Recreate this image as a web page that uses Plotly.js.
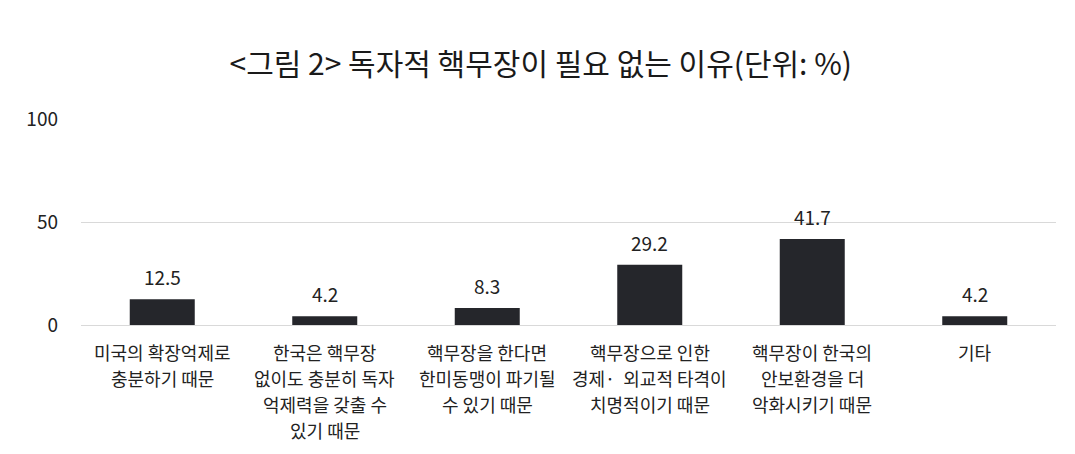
<!DOCTYPE html>
<html>
<head>
<meta charset="utf-8">
<script src="https://cdn.plot.ly/plotly-3.0.1.min.js"></script>
<style>
  html, body { margin: 0; padding: 0; background: #fff; }
  #chart { width: 1075px; height: 454px; }
</style>
</head>
<body>
<div id="chart"></div>
<script>
const categories = ["c1", "c2", "c3", "c4", "c5", "c6"];
const catLabels = [
  ["미국의 확장억제로", "충분하기 때문"],
  ["한국은 핵무장", "없이도 충분히 독자", "억제력을 갖출 수", "있기 때문"],
  ["핵무장을 한다면", "한미동맹이 파기될", "수 있기 때문"],
  ["핵무장으로 인한", "경제·  외교적 타격이", "치명적이기 때문"],
  ["핵무장이 한국의", "안보환경을 더", "악화시키기 때문"],
  ["기타"],
];
const values = [12.5, 4.2, 8.3, 29.2, 41.7, 4.2];

const KR = '"Noto Sans CJK KR", "Noto Sans", sans-serif';
const annotations = [];

// value labels above each bar
for (let i = 0; i < categories.length; i++) {
  annotations.push({
    x: categories[i], y: values[i], xref: "x", yref: "y",
    text: values[i].toFixed(1), showarrow: false,
    yanchor: "bottom", yshift: 7,
    font: { family: KR, size: 19, color: "#222" },
  });
}

// category labels, one annotation per line so the spacing matches
for (let i = 0; i < categories.length; i++) {
  catLabels[i].forEach((line, j) => {
    annotations.push({
      x: categories[i], y: 0, xref: "x", yref: "y",
      text: line, showarrow: false,
      yanchor: "middle", yshift: -27 - j * 26,
      font: { family: KR, size: 18, color: "#222" },
    });
  });
}

const trace = {
  type: "bar",
  x: categories,
  y: values,
  width: 0.4,
  marker: { color: "#25262b" },
  hoverinfo: "none",
};

const layout = {
  width: 1075,
  height: 454,
  margin: { l: 81, r: 19, t: 119, b: 129 },
  paper_bgcolor: "#fff",
  plot_bgcolor: "#fff",
  showlegend: false,
  title: {
    text: "<그림 2> 독자적 핵무장이 필요 없는 이유(단위: %)",
    x: 0.503, xanchor: "center",
    y: 0.857, yanchor: "middle",
    font: { family: KR, size: 30, color: "#1a1a1a" },
  },
  xaxis: {
    showticklabels: false,
    showgrid: false,
    zeroline: false,
    showline: false,
    ticks: "",
  },
  yaxis: {
    range: [0, 100],
    tickvals: [0, 50, 100],
    showgrid: true,
    gridcolor: "#d9d9d9",
    gridwidth: 1,
    zeroline: true,
    zerolinecolor: "#d9d9d9",
    zerolinewidth: 1,
    showline: false,
    ticks: "",
    ticklabelstandoff: 22,
    tickfont: { family: KR, size: 19, color: "#222" },
  },
  annotations: annotations,
};

Plotly.newPlot("chart", [trace], layout, { displayModeBar: false, staticPlot: true });
</script>
</body>
</html>
